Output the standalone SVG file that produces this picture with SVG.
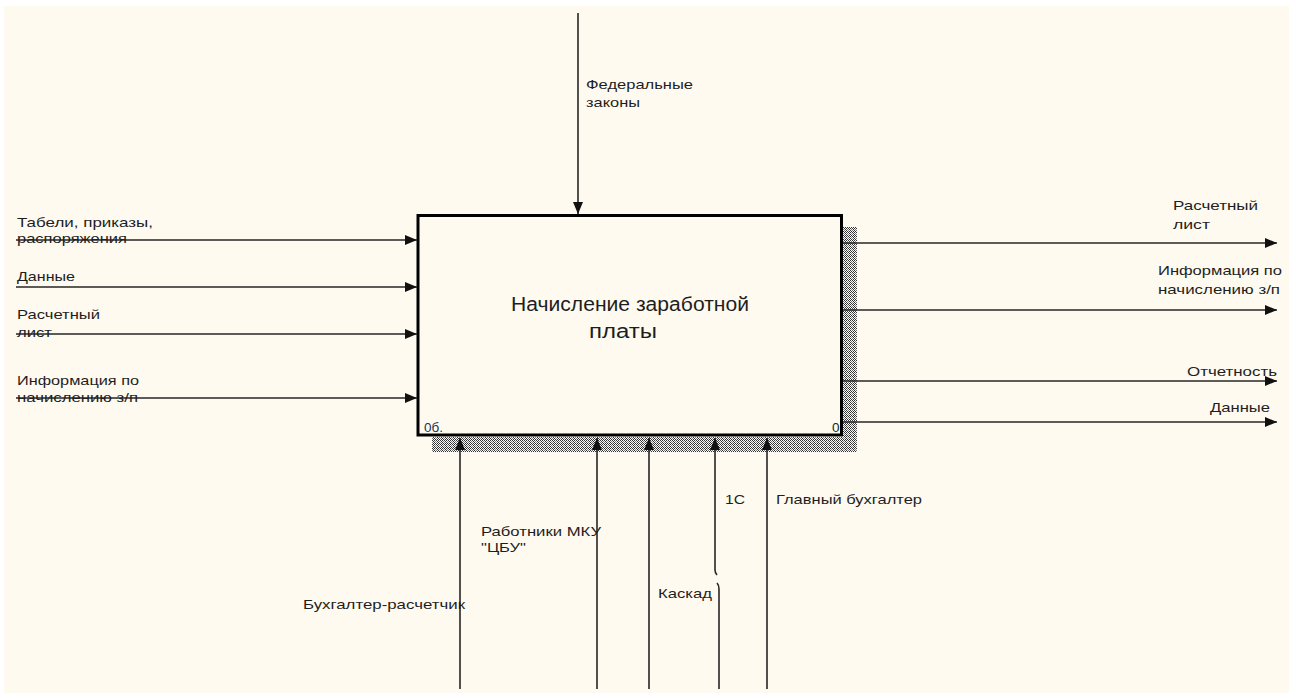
<svg xmlns="http://www.w3.org/2000/svg" width="1297" height="695" viewBox="0 0 1297 695">
<style>
.t{font-family:"Liberation Sans",Arial,sans-serif;font-size:13.5px;fill:#1e1e1e}
.b{font-family:"Liberation Sans",Arial,sans-serif;font-size:20px;fill:#1e1e1e}
.c{stroke:#262626;stroke-width:1.6;fill:none}
</style>
<defs>
<pattern id="hatch" width="4" height="4" patternUnits="userSpaceOnUse">
<rect width="4" height="4" fill="#fffaf0"/>
<rect x="0" y="0" width="1" height="1" fill="#333"/>
<rect x="2" y="0" width="1" height="1" fill="#333"/>
<rect x="1" y="1" width="1" height="1" fill="#333"/>
<rect x="3" y="1" width="1" height="1" fill="#777"/>
<rect x="0" y="2" width="1" height="1" fill="#777"/>
<rect x="2" y="2" width="1" height="1" fill="#333"/>
<rect x="1" y="3" width="1" height="1" fill="#333"/>
<rect x="3" y="3" width="1" height="1" fill="#333"/>
</pattern>
<marker id="ah" viewBox="0 0 12 10" refX="12" refY="5" markerWidth="12" markerHeight="10" markerUnits="userSpaceOnUse" orient="auto">
<path d="M0,0 L12,5 L0,10 Z" fill="#111"/>
</marker>
</defs>
<rect x="0" y="0" width="1297" height="695" fill="#ffffff"/>
<rect x="4" y="6" width="1285" height="687" fill="#fffaf0"/>

<g id="node-main">
<rect x="843" y="227" width="14" height="225" fill="url(#hatch)"/>
<rect x="432" y="437" width="425" height="15" fill="url(#hatch)"/>
<rect x="418" y="215.5" width="423.5" height="219.5" fill="#fffaf0" stroke="#000" stroke-width="3"/>
<text class="b" x="630" y="311" text-anchor="middle" textLength="238" lengthAdjust="spacingAndGlyphs">Начисление заработной</text>
<text class="b" x="623" y="338" text-anchor="middle" textLength="68" lengthAdjust="spacingAndGlyphs">платы</text>
<text class="t" x="424" y="432" style="fill:#1f2f55">0б.</text>
<text class="t" x="832" y="432">0</text>
</g>

<g id="connectors">
<!-- inputs -->
<line class="c" x1="16" y1="240" x2="417" y2="240" marker-end="url(#ah)"/>
<line class="c" x1="16" y1="287" x2="417" y2="287" marker-end="url(#ah)"/>
<line class="c" x1="16" y1="334" x2="417" y2="334" marker-end="url(#ah)"/>
<line class="c" x1="16" y1="398" x2="417" y2="398" marker-end="url(#ah)"/>
<!-- control -->
<line class="c" x1="578" y1="13" x2="578" y2="214" marker-end="url(#ah)"/>
<!-- outputs -->
<line class="c" x1="843" y1="243" x2="1277" y2="243" marker-end="url(#ah)"/>
<line class="c" x1="843" y1="310" x2="1277" y2="310" marker-end="url(#ah)"/>
<line class="c" x1="843" y1="381" x2="1277" y2="381" marker-end="url(#ah)"/>
<line class="c" x1="843" y1="422" x2="1277" y2="422" marker-end="url(#ah)"/>
<!-- mechanisms -->
<line class="c" x1="460" y1="689" x2="460" y2="438" marker-end="url(#ah)"/>
<line class="c" x1="597" y1="689" x2="597" y2="438" marker-end="url(#ah)"/>
<line class="c" x1="649" y1="689" x2="649" y2="438" marker-end="url(#ah)"/>
<line class="c" x1="767" y1="689" x2="767" y2="438" marker-end="url(#ah)"/>
<line class="c" x1="715" y1="570" x2="715" y2="438" marker-end="url(#ah)"/>
<path class="c" d="M715,570 q0,3 2,5"/>
<path class="c" d="M717,583 q2,2 2,6"/>
<line class="c" x1="719" y1="589" x2="719" y2="689"/>
</g>

<g id="labels">
<text class="t" x="586" y="89" textLength="107" lengthAdjust="spacingAndGlyphs">Федеральные</text>
<text class="t" x="586" y="107" textLength="54" lengthAdjust="spacingAndGlyphs">законы</text>

<text class="t" x="17" y="227" textLength="136" lengthAdjust="spacingAndGlyphs">Табели, приказы,</text>
<text class="t" x="17" y="243" textLength="110" lengthAdjust="spacingAndGlyphs">распоряжения</text>
<text class="t" x="17" y="281" textLength="58" lengthAdjust="spacingAndGlyphs">Данные</text>
<text class="t" x="17" y="319" textLength="83" lengthAdjust="spacingAndGlyphs">Расчетный</text>
<text class="t" x="17" y="337" textLength="35" lengthAdjust="spacingAndGlyphs">лист</text>
<text class="t" x="17" y="385" textLength="122" lengthAdjust="spacingAndGlyphs">Информация по</text>
<text class="t" x="17" y="402" textLength="121" lengthAdjust="spacingAndGlyphs">начислению з/п</text>

<text class="t" x="1173" y="210" textLength="85" lengthAdjust="spacingAndGlyphs">Расчетный</text>
<text class="t" x="1173" y="229" textLength="37" lengthAdjust="spacingAndGlyphs">лист</text>
<text class="t" x="1158" y="275" textLength="124" lengthAdjust="spacingAndGlyphs">Информация по</text>
<text class="t" x="1158" y="294" textLength="122" lengthAdjust="spacingAndGlyphs">начислению з/п</text>
<text class="t" x="1187" y="376" textLength="90" lengthAdjust="spacingAndGlyphs">Отчетность</text>
<text class="t" x="1210" y="412" textLength="60" lengthAdjust="spacingAndGlyphs">Данные</text>

<text class="t" x="725" y="504" textLength="20" lengthAdjust="spacingAndGlyphs">1С</text>
<text class="t" x="776" y="504" textLength="146" lengthAdjust="spacingAndGlyphs">Главный бухгалтер</text>
<text class="t" x="481" y="536" textLength="120" lengthAdjust="spacingAndGlyphs">Работники МКУ</text>
<text class="t" x="481" y="552" textLength="45" lengthAdjust="spacingAndGlyphs">"ЦБУ"</text>
<text class="t" x="658" y="598" textLength="54" lengthAdjust="spacingAndGlyphs">Каскад</text>
<text class="t" x="303" y="609" textLength="162" lengthAdjust="spacingAndGlyphs">Бухгалтер-расчетчик</text>
</g>
</svg>
